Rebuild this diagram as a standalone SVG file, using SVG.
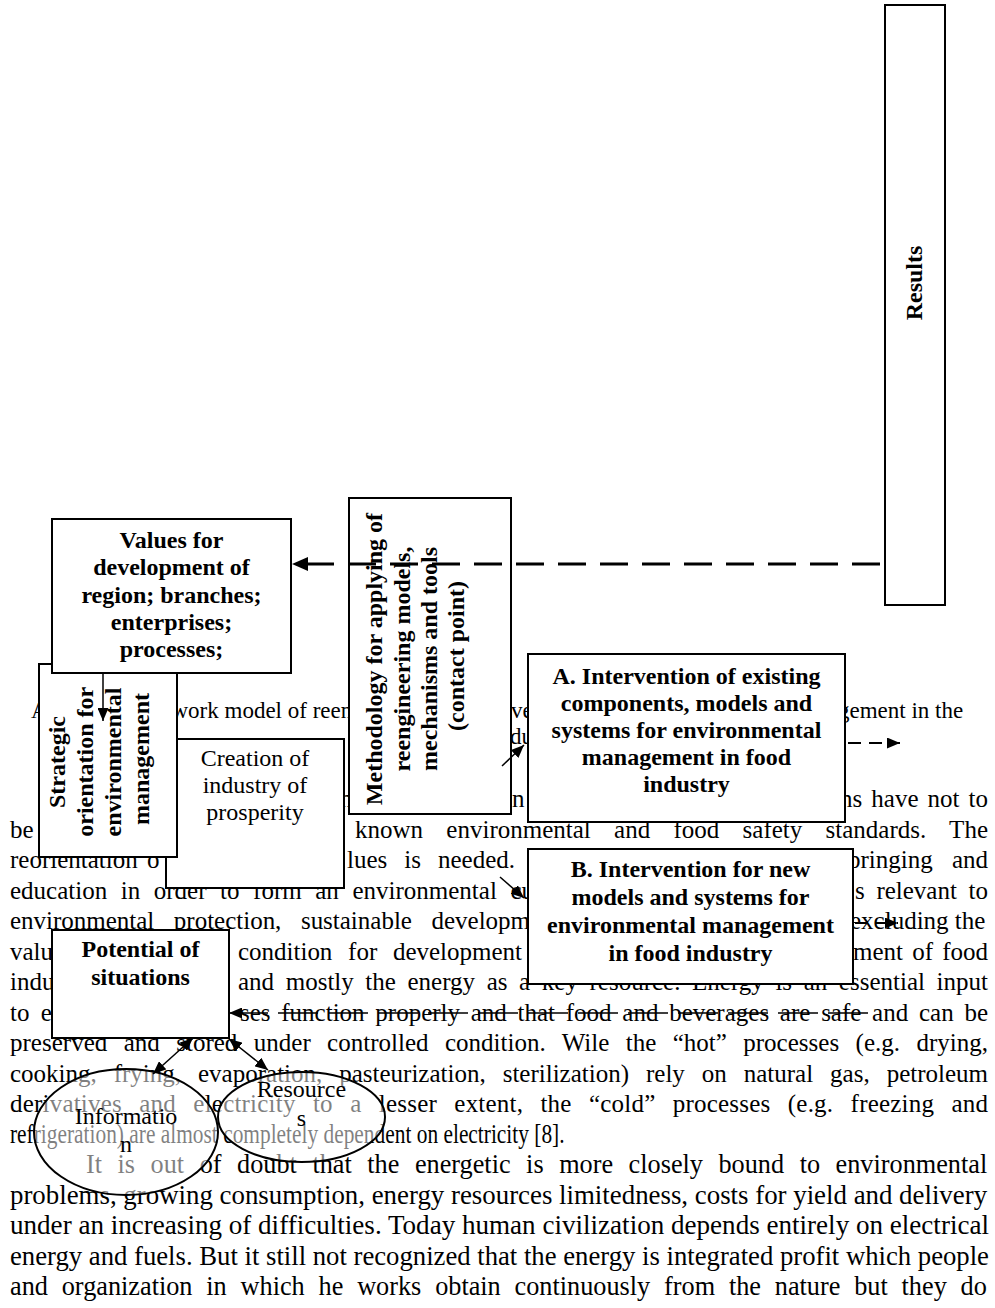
<svg xmlns="http://www.w3.org/2000/svg" width="995" height="1308" viewBox="0 0 995 1308">
<defs>
<style>
.box{fill:#fff;stroke:#000;stroke-width:2}
.ell{fill:#fff;fill-opacity:0.5;stroke:#000;stroke-width:2}
.bt{font-family:"Liberation Serif","Times New Roman",serif;font-size:24px;font-weight:bold;text-anchor:middle;fill:#000}
.rt{font-family:"Liberation Serif","Times New Roman",serif;font-size:24px;text-anchor:middle;fill:#000}
.p{font-family:"Liberation Serif","Times New Roman",serif;font-size:25px;fill:#000}
.q{font-family:"Liberation Serif","Times New Roman",serif;font-size:27.5px;fill:#000}
.cap{font-family:"Liberation Serif","Times New Roman",serif;font-size:23px;fill:#000}
.dbig{stroke:#000;stroke-width:3;fill:none;stroke-dasharray:28 14}
.dsm{stroke:#000;stroke-width:2;fill:none;stroke-dasharray:13 8}
.dmid{stroke:#000;stroke-width:1.5;fill:none;stroke-dasharray:40 10}
.ln{stroke:#000;stroke-width:1.5;fill:none}
</style>
<marker id="ah" markerUnits="userSpaceOnUse" markerWidth="16" markerHeight="14" refX="16" refY="7" orient="auto"><path d="M0,0 L16,7 L0,14 z" fill="#000"/></marker>
<marker id="as" markerUnits="userSpaceOnUse" markerWidth="13" markerHeight="11" refX="13" refY="5.5" orient="auto-start-reverse"><path d="M0,0 L13,5.5 L0,11 z" fill="#000"/></marker>
</defs>
<rect width="995" height="1308" fill="#fff"/>

<g id="page-text">
<text class="cap" x="31" y="718">A</text>
<text class="cap" x="171.5" y="718">work model of reen</text>
<text class="cap" x="511" y="718">ve</text>
<text class="cap" x="838" y="718">gement in the</text>
<text class="cap" x="510" y="744">du</text>

<text class="p" x="340" y="807">n</text>
<text class="p" x="512" y="807">n</text>
<text class="p" x="840" y="807" word-spacing="2.8" textLength="148">ns have not to</text>

<text class="p" x="10" y="837.5">be</text>
<text class="p" x="355" y="837.5" word-spacing="17" textLength="633">known environmental and food safety standards. The</text>

<text class="p" x="10" y="868" word-spacing="3">reorientation o</text>
<text class="p" x="347" y="868" word-spacing="10.7" textLength="168">lues is needed.</text>
<text class="p" x="848" y="868" word-spacing="13" textLength="140">bringing and</text>

<text class="p" x="10" y="898.5" word-spacing="7.3" textLength="524">education in order to form an environmental cu</text>
<text class="p" x="855" y="898.5" word-spacing="5.4" textLength="133">s relevant to</text>

<text class="p" x="10" y="929" word-spacing="13.3" textLength="520">environmental protection, sustainable developm</text>
<text class="p" x="850" y="929">excluding the</text>

<text class="p" x="10" y="959.5">valu</text>
<text class="p" x="238" y="959.5" word-spacing="9.5" textLength="284">condition for development</text>
<text class="p" x="853" y="959.5" word-spacing="3" textLength="135">ment of food</text>

<text class="p" x="10" y="990">indu</text>
<text class="p" x="238" y="990" word-spacing="5.3" textLength="750">and mostly the energy as a key resource. Energy is an essential input</text>

<text class="p" x="10" y="1020.5" word-spacing="5">to e</text>
<text class="p" x="240" y="1020.5" word-spacing="4.5" textLength="748">ses function properly and that food and beverages are safe and can be</text>

<text class="p" x="10" y="1051" word-spacing="10.07" textLength="978">preserved and stored under controlled condition. Wile the “hot” processes (e.g. drying,</text>
<text class="p" x="10" y="1081.5" word-spacing="10.7" textLength="978">cooking, frying, evaporation, pasteurization, sterilization) rely on natural gas, petroleum</text>
<text class="p" x="10" y="1112" word-spacing="10.9" textLength="978">derivatives and electricity to a lesser extent, the “cold” processes (e.g. freezing and</text>
<text class="q" transform="translate(10,1142.5) scale(0.778,1)">refrigeration) are almost completely dependent on electricity [8].</text>
<text class="q" transform="translate(86,1173) scale(0.9547,1)" word-spacing="9.4">It is out of doubt that the energetic is more closely bound to environmental</text>
<text class="q" transform="translate(10,1203.5) scale(0.9767,1)">problems, growing consumption, energy resources limitedness, costs for yield and delivery</text>
<text class="q" transform="translate(10,1234) scale(0.985,1)">under an increasing of difficulties. Today human civilization depends entirely on electrical</text>
<text class="q" transform="translate(10,1264.5) scale(0.971,1)">energy and fuels. But it still not recognized that the energy is integrated profit which people</text>
<text class="q" transform="translate(10,1295) scale(0.9553,1)" word-spacing="7.6">and organization in which he works obtain continuously from the nature but they do</text>
</g>

<g id="node-creation">
<rect class="box" x="166" y="739" width="178" height="149"/>
<text class="rt" x="255" y="766">Creation of</text>
<text class="rt" x="255" y="793">industry of</text>
<text class="rt" x="255" y="820">prosperity</text>
</g>

<g id="node-strategic">
<rect class="box" x="39" y="664" width="138" height="193"/>
<text class="bt" transform="rotate(-90)">
<tspan x="-759" y="65">Strategic</tspan>
<tspan x="-759" y="93">orientation for</tspan>
<tspan x="-759" y="121">environmental</tspan>
<tspan x="-759" y="149">management</tspan>
</text>
</g>

<g id="node-values">
<rect class="box" x="52" y="519" width="239" height="154"/>
<text class="bt" x="171.5" y="548">Values for</text>
<text class="bt" x="171.5" y="575.3">development of</text>
<text class="bt" x="171.5" y="602.6">region; branches;</text>
<text class="bt" x="171.5" y="629.9">enterprises;</text>
<text class="bt" x="171.5" y="657.2">processes;</text>
</g>

<g id="node-methodology">
<rect class="box" x="349" y="498" width="162" height="316"/>
<text class="bt" transform="rotate(-90)">
<tspan x="-656" y="382">Methodology for applying of</tspan>
<tspan x="-656" y="409.5">reengineering models,</tspan>
<tspan x="-656" y="437">mechanisms and tools</tspan>
<tspan x="-656" y="464">(contact point)</tspan>
</text>
</g>

<g id="node-a">
<rect class="box" x="528" y="654" width="317" height="168"/>
<text class="bt" x="686.5" y="684">A. Intervention of existing</text>
<text class="bt" x="686.5" y="711">components, models and</text>
<text class="bt" x="686.5" y="738">systems for environmental</text>
<text class="bt" x="686.5" y="765">management in food</text>
<text class="bt" x="686.5" y="792">industry</text>
</g>

<g id="node-b">
<rect class="box" x="528" y="849" width="325" height="135"/>
<text class="bt" x="690.5" y="877">B. Intervention for new</text>
<text class="bt" x="690.5" y="905">models and systems for</text>
<text class="bt" x="690.5" y="933">environmental management</text>
<text class="bt" x="690.5" y="961">in food industry</text>
</g>

<g id="node-potential">
<rect class="box" x="52" y="930" width="177" height="108"/>
<text class="bt" x="140.5" y="957">Potential of</text>
<text class="bt" x="140.5" y="985">situations</text>
</g>

<g id="node-results">
<rect class="box" x="885" y="5" width="60" height="600"/>
<text class="bt" transform="rotate(-90)" x="-283" y="922">Results</text>
</g>

<g id="node-information">
<ellipse class="ell" cx="126" cy="1132" rx="92" ry="63"/>
<text class="rt" x="126" y="1124">Informatio</text>
<text class="rt" x="126" y="1152">n</text>
</g>

<g id="node-resources">
<ellipse class="ell" cx="301.5" cy="1117" rx="83.5" ry="45"/>
<text class="rt" x="301.5" y="1097">Resource</text>
<text class="rt" x="301.5" y="1126">s</text>
</g>

<g id="connectors">
<line class="dbig" x1="880" y1="564" x2="292" y2="564" marker-end="url(#ah)"/>
<line class="ln" x1="103" y1="673" x2="103" y2="721" marker-end="url(#as)"/>
<line class="ln" x1="502" y1="766" x2="524" y2="745" marker-end="url(#as)"/>
<line class="ln" x1="500" y1="877" x2="524" y2="898" marker-end="url(#as)"/>
<line class="dsm" x1="848" y1="743" x2="900" y2="743" marker-end="url(#as)"/>
<line class="dsm" x1="855" y1="923" x2="898" y2="923" marker-end="url(#as)"/>
<line class="dmid" x1="868" y1="1013" x2="229" y2="1013" marker-end="url(#as)"/>
<line class="ln" x1="193" y1="1038" x2="153" y2="1074" marker-start="url(#as)" marker-end="url(#as)"/>
<line class="ln" x1="229" y1="1039" x2="268" y2="1070" marker-start="url(#as)" marker-end="url(#as)"/>
</g>
</svg>
